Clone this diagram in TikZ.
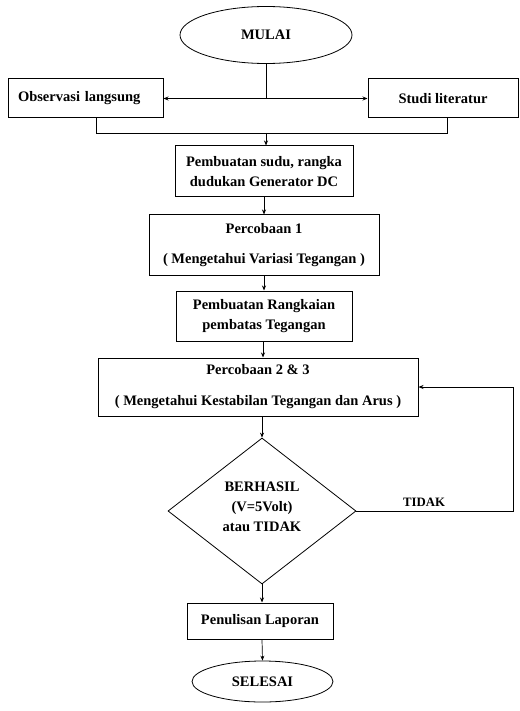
\documentclass[tikz,border=0pt]{standalone}
\usepackage{fontspec}
\setmainfont{Liberation Serif}
\usetikzlibrary{shapes.geometric,arrows.meta}
\begin{document}
\begin{tikzpicture}[x=1pt,y=-1pt,
  font=\bfseries\fontsize{14.5}{20}\selectfont,
  box/.style={draw, line width=1pt, inner sep=0pt, align=center},
  term/.style={draw, ellipse, line width=0.8pt, inner sep=0pt},
  conn/.style={line width=0.7pt},
  arr/.style={conn, -{Stealth[length=5pt,width=4pt]}}]
\useasboundingbox (0,0) rectangle (519,711);

\node[term, minimum width=172pt, minimum height=57pt] (mulai) at (266,35) {MULAI};
\node[box, minimum height=39pt, text width=135pt, inner xsep=10pt, align=left] (obs) at (85.5,98.5) {Observasi langsung};
\node[box, minimum width=150pt, minimum height=39pt] (studi) at (443,98.5) {Studi literatur};
\coordinate (j1) at (266,98.5);
\coordinate (j2) at (266,133);

\node[box, minimum width=178pt, minimum height=51pt] (sudu) at (264,171.5) {Pembuatan sudu, rangka\\dudukan Generator DC};
\node[box, minimum width=230pt, minimum height=60pt] (p1) at (264,245) {Percobaan 1\\[10pt]( Mengetahui Variasi Tegangan )};
\node[box, minimum width=176pt, minimum height=50pt] (rang) at (264,316) {Pembuatan Rangkaian\\pembatas Tegangan};
\node[box, minimum width=320pt, minimum height=58pt] (p23) at (258,387) {Percobaan 2 \& 3\\[11pt]( Mengetahui Kestabilan Tegangan dan Arus )};
\node[draw, diamond, line width=0.8pt, inner sep=0pt, minimum width=188pt, minimum height=146pt, aspect=1.29] (dec) at (262,511) {};
\node[align=center] (dectext) at (262,507) {BERHASIL\\(V=5Volt)\\atau TIDAK};
\node[box, minimum width=146pt, minimum height=36pt] (lap) at (260,621) {Penulisan Laporan};
\node[term, minimum width=141pt, minimum height=41pt] (selesai) at (262.5,681.5) {SELESAI};
\node[font=\bfseries\fontsize{12.8}{14}\selectfont] (tidak) at (424,502) {TIDAK};
\coordinate (k) at (513,511);

\draw[conn] (mulai.south) -- (j1);
\draw[arr] (j1) -- (obs.east);
\draw[arr] (j1) -- (studi.west);
\draw[conn] ([xshift=10.5pt]obs.south) |- ([xshift=4pt]studi.south |- j2) -- ([xshift=4pt]studi.south);
\draw[arr] (j2) -- (j2 |- sudu.north);
\draw[arr] (sudu.south) -- (p1.north);
\draw[arr] (p1.south) -- (rang.north);
\draw[arr] ([xshift=-1pt]rang.south) -- ([xshift=-1pt]rang.south |- p23.north);
\draw[arr] (dec.north |- p23.south) -- (dec.north);
\draw[arr] (dec.south) -- (dec.south |- lap.north);
\draw[arr] (dec.south |- lap.south) -- (selesai.north);
\draw[arr] (dec.east) -- (k) |- (p23.east);
\end{tikzpicture}
\end{document}
